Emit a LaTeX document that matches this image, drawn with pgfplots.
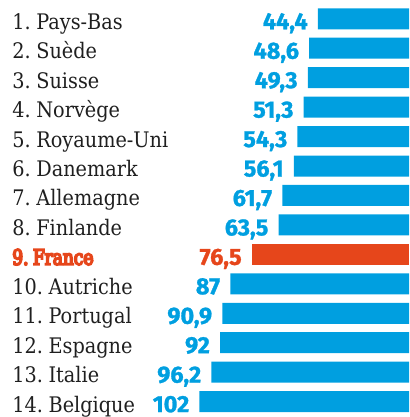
\documentclass[border=0pt]{standalone}
\usepackage{pgfplots}
\pgfplotsset{compat=1.18}
\usepackage{pgfplotstable}
\usepackage{fontspec}
\setmainfont{DejaVu Serif Condensed}[WordSpace=0.6]
\newfontfamily\frfont{DejaVu Serif Condensed}[WordSpace=0.5, FakeBold=8, FakeStretch=0.88]
\newfontfamily\valfont{Fira Sans}[BoldFeatures={FakeBold=1.2}]
\definecolor{barblue}{HTML}{009FE0}
\definecolor{frred}{HTML}{E6461B}

\pgfplotstableread[col sep=semicolon]{
y;v;lab
1;44.4;44,4
2;48.6;48,6
3;49.3;49,3
4;51.3;51,3
5;54.3;54,3
6;56.1;56,1
7;61.7;61,7
8;63.5;63,5
10;87;87
11;90.9;90,9
12;92;92
13;96.2;96,2
14;102;102
}\bluedata
\pgfplotstableread[col sep=semicolon]{
y;v;lab
9;76.5;76,5
}\frdata

\begin{document}
\begin{tikzpicture}
\begin{axis}[
  width=409bp, height=417bp, scale only axis,
  xmin=-199, xmax=0, ymin=0.362, ymax=14.523, y dir=reverse,
  xbar, bar width=0.713, bar shift=0pt,
  axis line style={draw=none}, major tick length=0pt,
  xtick=\empty,
  ytick={1,...,14},
  yticklabels={1. Pays-Bas, 2. Suède, 3. Suisse, 4. Norvège, 5. Royaume-Uni, 6. Danemark, 7. Allemagne, 8. Finlande, {\frfont\color{frred}9. France}, 10. Autriche, 11. Portugal, 12. Espagne, 13. Italie, 14. Belgique},
  yticklabel style={anchor=base west, inner sep=0pt, xshift=12bp, yshift=-10.5bp, font=\fontsize{21.5}{21.5}\selectfont, text=black!88},
  nodes near coords,
  point meta=explicit symbolic,
  nodes near coords style={anchor=base east, inner sep=0pt, xshift=-10bp, yshift=-10.5bp, font=\valfont\bfseries\fontsize{23.5}{23.5}\selectfont},
]
\addplot[fill=barblue, draw=none, nodes near coords style={text=barblue}] table[x expr=-\thisrow{v}, y=y, meta=lab] {\bluedata};
\addplot[fill=frred, draw=none, nodes near coords style={text=frred}] table[x expr=-\thisrow{v}, y=y, meta=lab] {\frdata};
\end{axis}
\end{tikzpicture}
\end{document}
